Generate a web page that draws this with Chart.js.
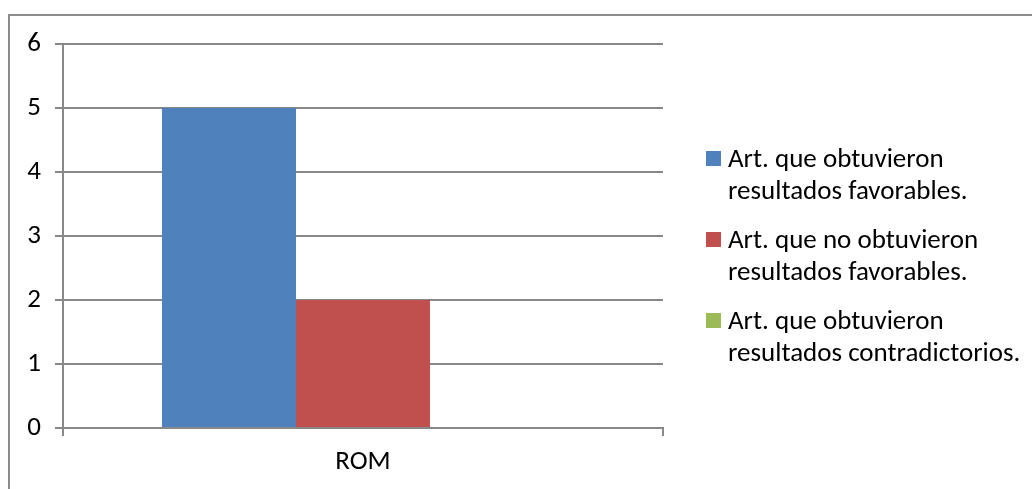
<!DOCTYPE html>
<html>
<head>
<meta charset="utf-8">
<script src="https://cdn.jsdelivr.net/npm/chart.js@4"></script>
<style>
  html, body { margin: 0; padding: 0; background: #fff; }
  #marco { position: absolute; left: 8px; top: 14px; width: 1030px; height: 480px;
           border-top: 2px solid #8c8c8c; border-left: 2px solid #8c8c8c; }
  #lienzo { position: absolute; left: 0; top: 0; width: 1032px; height: 489px; }
  #leyenda { position: absolute; left: 706px; top: 142px; font-family: Calibri, Carlito, "Open Sans", sans-serif;
             font-size: 27px; line-height: 32px; color: #000; white-space: nowrap; }
  .item { position: relative; padding-left: 22px; height: 64px; margin-bottom: 17px; }
  .cuadro { position: absolute; left: 0; top: 9px; width: 15px; height: 15px; }
</style>
</head>
<body>
<div id="marco"></div>
<div id="lienzo"><canvas id="grafico"></canvas></div>
<div id="leyenda"></div>
<script>
// Datos
const categorias = ["ROM"];
const series = [
  "Art. que obtuvieron resultados favorables.",
  "Art. que no obtuvieron resultados favorables.",
  "Art. que obtuvieron resultados contradictorios."
];
const lineasLeyenda = [
  ["Art. que obtuvieron", "resultados favorables."],
  ["Art. que no obtuvieron", "resultados favorables."],
  ["Art. que obtuvieron", "resultados contradictorios."]
];
const favorables = [5];
const noFavorables = [2];
const contradictorios = [0];
const colores = ["#4F81BD", "#C0504D", "#9BBB59"];
const ticksY = [0, 1, 2, 3, 4, 5, 6];

const valores = [favorables, noFavorables, contradictorios];
const fuente = "Calibri, Carlito, 'Open Sans', sans-serif";

// Leyenda en HTML (texto en dos líneas)
let html = "";
lineasLeyenda.forEach((l, i) => {
  html += `<div class="item"><span class="cuadro" style="background:${colores[i]}"></span>${l[0]}<br>${l[1]}</div>`;
});
document.getElementById("leyenda").innerHTML = html;

new Chart(document.getElementById("grafico"), {
  type: "bar",
  data: {
    labels: categorias,
    datasets: series.map((s, i) => ({
      label: s, data: valores[i], backgroundColor: colores[i],
      borderWidth: 0, barPercentage: 1, categoryPercentage: 0.67
    }))
  },
  options: {
    responsive: true, maintainAspectRatio: false, animation: false,
    layout: { padding: { left: 0, right: 369, top: 44, bottom: 0 } },
    plugins: { legend: { display: false }, tooltip: { enabled: false } },
    scales: {
      x: {
        grid: { display: true, drawOnChartArea: false, drawTicks: true, tickLength: 8, color: "#888", lineWidth: 2 },
        border: { display: true, color: "#888", width: 2 },
        ticks: { color: "#000", font: { family: fuente, size: 27 }, padding: 10 },
        afterFit: s => { s.height = 61; }
      },
      y: {
        min: 0, max: 6,
        afterBuildTicks: s => { s.ticks = ticksY.map(v => ({ value: v })); },
        grid: { color: "#888", lineWidth: 2, tickLength: 8, drawTicks: true },
        border: { display: true, color: "#888", width: 2 },
        ticks: { color: "#000", font: { family: fuente, size: 27 }, padding: 14 },
        afterFit: s => { s.width = 63; }
      }
    }
  }
});
</script>
</body>
</html>
